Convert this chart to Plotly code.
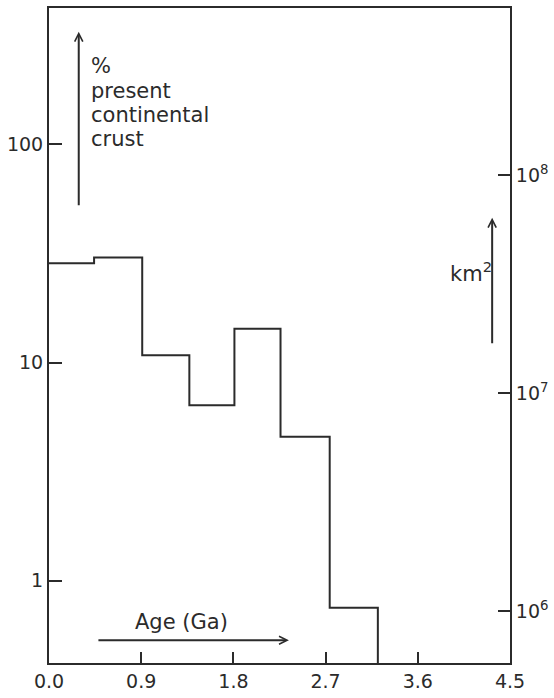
import math
import plotly.graph_objects as go

# Age bin edges (Ga) and % of present continental crust per bin
age_edges = [0.0, 0.44, 0.91, 1.37, 1.81, 2.26, 2.74, 3.21]
pct_values = [28.5, 30.3, 10.8, 6.38, 14.3, 4.57, 0.753]
x_tick_vals = [0.0, 0.9, 1.8, 2.7, 3.6, 4.5]
x_tick_text = ["0.0", "0.9", "1.8", "2.7", "3.6", "4.5"]
left_tick_vals = [1, 10, 100]
left_tick_text = ["1", "10", "100"]
right_tick_vals = [1e6, 1e7, 1e8]
right_tick_text = ["10<sup>6</sup>", "10<sup>7</sup>", "10<sup>8</sup>"]
area_100pct_km2 = 1.38e8  # area equal to 100 % present continental crust
zero_level = 1e-3  # value used for "no crust" after the last bin
label_lines = ["%", "present", "continental", "crust"]

INK = "#2b2b2b"
FONT = "DejaVu Sans"

xs = age_edges[:-1] + [age_edges[-1]]
ys = pct_values + [zero_level]

y_range = [-0.377, 2.625]
shift = math.log10(area_100pct_km2) - 2
y2_range = [y_range[0] + shift, y_range[1] + shift]

fig = go.Figure()
fig.add_trace(go.Scatter(x=xs, y=ys, mode="lines", line=dict(shape="hv", color=INK, width=2),
                         showlegend=False, hoverinfo="skip"))
fig.add_trace(go.Scatter(x=[0], y=[1e7], yaxis="y2", mode="markers",
                         marker=dict(opacity=0), showlegend=False, hoverinfo="skip"))

fig.update_layout(
    width=554, height=698,
    margin=dict(l=49, r=40, t=6, b=30),
    paper_bgcolor="white", plot_bgcolor="white",
    font=dict(family=FONT, size=19, color=INK),
    xaxis=dict(range=[0, 4.5], tickvals=x_tick_vals, ticktext=x_tick_text,
               ticks="inside", ticklen=11, tickwidth=2, tickcolor=INK,
               showline=True, linewidth=2, linecolor=INK, mirror=True,
               showgrid=False, zeroline=False, tickfont=dict(size=19)),
    yaxis=dict(type="log", range=y_range, tickvals=left_tick_vals, ticktext=left_tick_text,
               ticks="inside", ticklen=13, tickwidth=2, tickcolor=INK,
               showline=True, linewidth=2, linecolor=INK,
               showgrid=False, zeroline=False, tickfont=dict(size=19)),
    yaxis2=dict(type="log", range=y2_range, overlaying="y", side="right",
                tickvals=right_tick_vals, ticktext=right_tick_text,
                ticks="inside", ticklen=12, tickwidth=2, tickcolor=INK,
                showline=True, linewidth=2, linecolor=INK,
                showgrid=False, zeroline=False, tickfont=dict(size=19)),
)

L, R, T, B = 49, 514, 6, 668
W, H = R - L, B - T
def px(x): return (x - L) / W
def py(y): return (B - y) / H

arrow = dict(showarrow=True, arrowhead=5, arrowsize=0.8, arrowwidth=2, arrowcolor=INK,
             xref="paper", yref="paper", text="", standoff=0)
fig.add_annotation(x=px(79), y=py(30), ax=0, ay=175, **arrow)
fig.add_annotation(x=px(496), y=py(218), ax=0, ay=127, **arrow)
fig.add_annotation(x=px(291), y=py(645), ax=-192, ay=0, **arrow)

for i, line in enumerate(label_lines):
    fig.add_annotation(x=px(89), y=py(65 + 24.5 * i), xref="paper", yref="paper",
                       showarrow=False, xanchor="left", yanchor="middle",
                       text=line, font=dict(family=FONT, size=21, color=INK))
fig.add_annotation(x=px(498), y=py(273), xref="paper", yref="paper", showarrow=False,
                   xanchor="right", yanchor="middle",
                   text="km<sup>2</sup>", font=dict(family=FONT, size=21, color=INK))
fig.add_annotation(x=px(183), y=py(627), xref="paper", yref="paper", showarrow=False,
                   xanchor="center", yanchor="middle",
                   text="Age (Ga)", font=dict(family=FONT, size=21, color=INK))

fig.write_html("out.html")
